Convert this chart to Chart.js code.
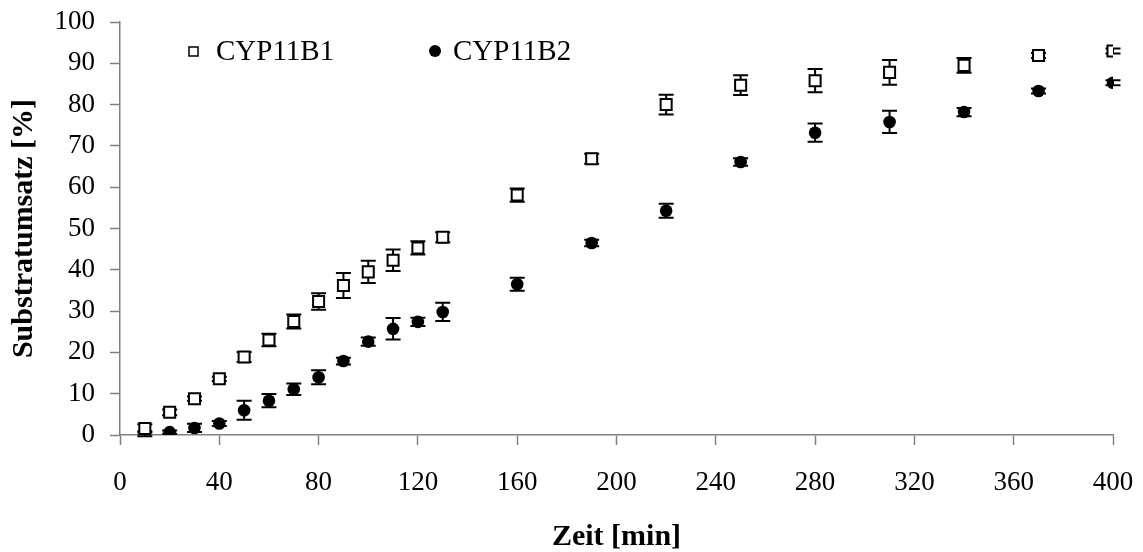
<!DOCTYPE html>
<html lang="de">
<head>
    <meta charset="UTF-8">
    <title>Substratumsatz</title>
    <script src="https://cdn.jsdelivr.net/npm/chart.js"></script>
    <style>
        body { margin: 0; background: #fff; }
        #wrap { width: 1143px; height: 552px; }
    </style>
</head>
<body>
    <div id="wrap"><canvas id="myChart" width="1143" height="552"></canvas></div>

    <script>
        // Messzeitpunkte [min]
        const zeit = [10, 20, 30, 40, 50, 60, 70, 80, 90, 100, 110, 120, 130, 160, 190, 220, 250, 280, 310, 340, 370, 400];

        // Umsatz [%] und Fehler
        const cyp11b1 = [1.6, 5.5, 8.8, 13.6, 18.9, 23.0, 27.5, 32.3, 36.2, 39.5, 42.3, 45.3, 47.9, 58.1, 66.9, 80.0, 84.7, 85.8, 87.8, 89.5, 91.9, 93.0];
        const cyp11b1Err = [1.0, 0.7, 0.5, 0.5, 1.2, 1.5, 1.7, 2.0, 3.0, 2.7, 2.6, 1.6, 1.2, 1.6, 1.2, 2.4, 2.4, 2.8, 3.0, 1.8, 0.6, 0.6];
        const cyp11b2 = [0.3, 0.7, 1.7, 2.8, 6.0, 8.3, 11.1, 14.0, 17.9, 22.6, 25.7, 27.4, 29.8, 36.5, 46.5, 54.3, 66.1, 73.2, 75.8, 78.2, 83.3, 85.3];
        const cyp11b2Err = [0.6, 0.4, 1.0, 0.6, 2.3, 1.6, 1.4, 1.7, 0.8, 1.0, 2.6, 1.0, 2.2, 1.6, 0.8, 1.7, 0.9, 2.2, 2.7, 1.0, 0.6, 0.6];

        const serif = '"Liberation Serif", "Times New Roman", serif';
        const axisGray = '#808080';

        function toPoints(ys) {
            return zeit.map((x, i) => ({ x: x, y: ys[i] }));
        }

        // Fehlerbalken hinter die Marker zeichnen
        const errorBars = {
            id: 'errorBars',
            beforeDatasetsDraw(chart) {
                const c = chart.ctx;
                const xs = chart.scales.x, ys = chart.scales.y;
                c.save();
                c.strokeStyle = '#000';
                c.lineWidth = 2;
                chart.data.datasets.forEach(ds => {
                    ds.data.forEach((p, i) => {
                        const e = ds.err[i];
                        const px = xs.getPixelForValue(p.x);
                        const top = ys.getPixelForValue(p.y + e);
                        const bot = ys.getPixelForValue(p.y - e);
                        c.beginPath();
                        c.moveTo(px, top); c.lineTo(px, bot);
                        c.moveTo(px - 7.5, top); c.lineTo(px + 7.5, top);
                        c.moveTo(px - 7.5, bot); c.lineTo(px + 7.5, bot);
                        c.stroke();
                    });
                });
                c.restore();
            }
        };

        // Legende innerhalb des Diagramms
        const innerLegend = {
            id: 'innerLegend',
            afterDraw(chart) {
                const c = chart.ctx;
                c.save();
                c.font = '29px ' + serif;
                c.textBaseline = 'middle';
                // Quadrat
                c.strokeStyle = '#000';
                c.lineWidth = 1.5;
                c.fillStyle = '#fff';
                c.fillRect(189, 47, 9, 9);
                c.strokeRect(189, 47, 9, 9);
                c.fillStyle = '#000';
                c.fillText('CYP11B1', 216, 52);
                // Kreis
                c.beginPath();
                c.arc(435, 51, 6, 0, Math.PI * 2);
                c.fill();
                c.fillText('CYP11B2', 453, 52);
                c.restore();
            }
        };

        const ctx = document.getElementById('myChart').getContext('2d');
        new Chart(ctx, {
            type: 'scatter',
            data: {
                datasets: [
                    {
                        label: 'CYP11B1',
                        data: toPoints(cyp11b1),
                        err: cyp11b1Err,
                        pointStyle: 'rect',
                        pointRadius: 7.8,
                        backgroundColor: '#fff',
                        borderColor: '#000',
                        borderWidth: 2
                    },
                    {
                        label: 'CYP11B2',
                        data: toPoints(cyp11b2),
                        err: cyp11b2Err,
                        pointStyle: 'circle',
                        pointRadius: 6.3,
                        backgroundColor: '#000',
                        borderColor: '#000',
                        borderWidth: 0
                    }
                ]
            },
            options: {
                responsive: false,
                animation: false,
                layout: { padding: { top: 22, right: 30, left: 0, bottom: 0 } },
                plugins: {
                    legend: { display: false },
                    tooltip: { enabled: false }
                },
                scales: {
                    x: {
                        type: 'linear',
                        min: 0,
                        max: 400,
                        afterFit: s => { s.height = 117; s.paddingLeft = 0; s.paddingRight = 0; },
                        border: { color: axisGray, width: 1.5 },
                        grid: { drawOnChartArea: false, tickLength: 10, color: axisGray, tickWidth: 1.5 },
                        ticks: { stepSize: 40, padding: 22, color: '#000', font: { family: serif, size: 27 } },
                        title: {
                            display: true,
                            text: 'Zeit [min]',
                            color: '#000',
                            padding: { top: 0, bottom: 0 },
                            font: { family: serif, size: 30, weight: 'bold', lineHeight: 1 }
                        }
                    },
                    y: {
                        min: 0,
                        max: 100,
                        afterFit: s => { s.width = 120; s.paddingTop = 0; s.paddingBottom = 0; },
                        border: { color: axisGray, width: 1.5 },
                        grid: { drawOnChartArea: false, tickLength: 10, color: axisGray, tickWidth: 1.5 },
                        ticks: { stepSize: 10, padding: 15, color: '#000', font: { family: serif, size: 27 } },
                        title: {
                            display: true,
                            text: 'Substratumsatz [%]',
                            color: '#000',
                            padding: { top: 9, bottom: 0 },
                            font: { family: serif, size: 30, weight: 'bold', lineHeight: 1 }
                        }
                    }
                }
            },
            plugins: [errorBars, innerLegend]
        });
    </script>
</body>
</html>
